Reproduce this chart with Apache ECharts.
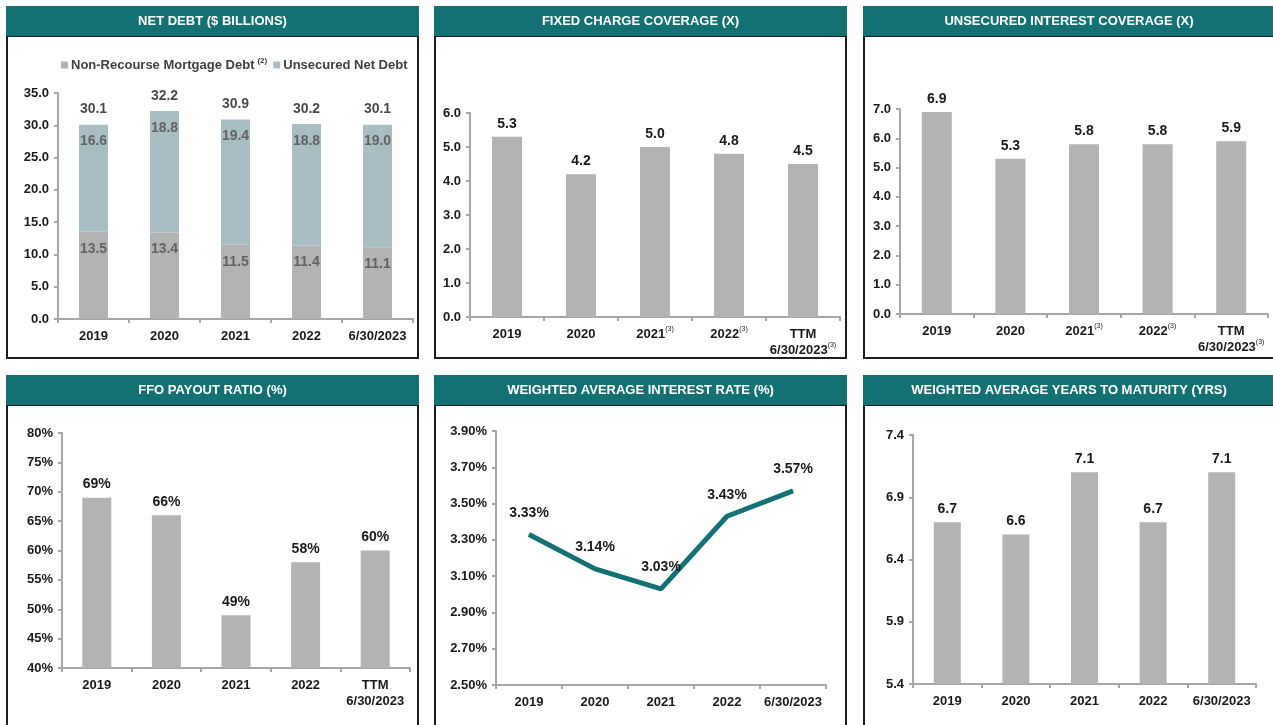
<!DOCTYPE html>
<html>
<head>
<meta charset="utf-8">
<script src="https://cdn.jsdelivr.net/npm/echarts@6/dist/echarts.min.js"></script>
<style>
  html, body { margin: 0; padding: 0; background: #fff; }
  #dash { width: 1273px; height: 725px; }
</style>
</head>
<body>
<div id="dash"></div>
<script>
// categories
const catsPlain = ['2019', '2020', '2021', '2022', '6/30/2023'];
const catsTTM = ['2019', '2020', '2021', '2022', 'TTM\n6/30/2023'];
const catsNote = ['2019', '2020', '2021(3)', '2022(3)', 'TTM\n6/30/2023(3)'];

// net debt ($ billions)
const mortgageDebt = [13.5, 13.4, 11.5, 11.4, 11.1];
const unsecuredDebt = [16.6, 18.8, 19.4, 18.8, 19.0];
// coverage ratios
const fixedCharge = [5.3, 4.2, 5.0, 4.8, 4.5];
const unsecuredCoverage = [6.9, 5.3, 5.8, 5.8, 5.9];
// FFO payout (%)
const ffoPayout = [69, 66, 49, 58, 60];
// weighted average interest rate (%)
const interestRate = [3.33, 3.14, 3.03, 3.43, 3.57];
// weighted average years to maturity
const yearsToMaturity = [6.7, 6.6, 7.1, 6.7, 7.1];

// tick labels
const ticksDebt = [0, 5, 10, 15, 20, 25, 30, 35];
const ticksFixed = [0, 1, 2, 3, 4, 5, 6];
const ticksUnsec = [0, 1, 2, 3, 4, 5, 6, 7];
const ticksFfo = [40, 45, 50, 55, 60, 65, 70, 75, 80];
const ticksRate = [2.5, 2.7, 2.9, 3.1, 3.3, 3.5, 3.7, 3.9];
const ticksYears = [5.4, 5.9, 6.4, 6.9, 7.4];

const totals = mortgageDebt.map((v, i) => +(v + unsecuredDebt[i]).toFixed(1));

const TEAL = '#147173';
const GRAY = '#b2b3b5';
const BLUEGRAY = '#a9bec3';
const AXIS = '#a6a6a6';
const FONT = '"Liberation Sans", Arial, sans-serif';

// panel frames + headers
const panels = [
    {x: 6, y: 6, w: 413, title: 'NET DEBT ($ BILLIONS)'},
    {x: 434, y: 6, w: 413, title: 'FIXED CHARGE COVERAGE (X)'},
    {x: 863, y: 6, w: 412, title: 'UNSECURED INTEREST COVERAGE (X)'},
    {x: 6, y: 375, w: 413, title: 'FFO PAYOUT RATIO (%)'},
    {x: 434, y: 375, w: 413, title: 'WEIGHTED AVERAGE INTEREST RATE (%)'},
    {x: 863, y: 375, w: 412, title: 'WEIGHTED AVERAGE YEARS TO MATURITY (YRS)'}
];
const graphics = [];
panels.forEach(p => {
    graphics.push({
        type: 'rect', shape: {x: p.x + 1, y: p.y + 30, width: p.w - 2, height: p.y < 100 ? 322 : 340},
        style: {fill: 'none', stroke: '#1e1e1e', lineWidth: 2}
    });
    graphics.push({
        type: 'rect', shape: {x: p.x, y: p.y, width: p.w, height: 30},
        style: {fill: TEAL}
    });
    graphics.push({
        type: 'text', x: p.x + p.w / 2, y: p.y + 15,
        style: {text: p.title, fill: '#fff', font: 'bold 13px ' + FONT, textAlign: 'center', textVerticalAlign: 'middle'}
    });
});

const rich = {
    a: {fontFamily: FONT, fontWeight: 'bold', fontSize: 13, color: '#1a1a1a', lineHeight: 16},
    s: {fontFamily: FONT, fontSize: 7, color: '#1a1a1a', verticalAlign: 'top', lineHeight: 16, padding: [0, 0, 6, 0]}
};
function catFormatter(v) {
    return v.split('\n').map(line => line.replace(/^(.*?)(\(\d\))?$/, (m, a, s) => '{a|' + a + '}' + (s ? '{s|' + s + '}' : ''))).join('\n');
}

const grids = [
    {left: 58, top: 93, width: 355, height: 226},
    {left: 470, top: 113, width: 370, height: 204},
    {left: 900, top: 109, width: 368, height: 205},
    {left: 62, top: 433, width: 348, height: 235},
    {left: 496, top: 431, width: 330, height: 254},
    {left: 913, top: 435, width: 343, height: 249}
];
const xCats = [catsPlain, catsNote, catsNote, catsTTM, catsPlain, catsPlain];
const yTicks = [ticksDebt, ticksFixed, ticksUnsec, ticksFfo, ticksRate, ticksYears];
const yFmt = [
    v => v.toFixed(1), v => v.toFixed(1), v => v.toFixed(1),
    v => v + '%', v => v.toFixed(2) + '%', v => v.toFixed(1)
];

const xAxis = xCats.map((c, i) => ({
    type: 'category', gridIndex: i, data: c,
    axisLine: {lineStyle: {color: AXIS, width: 2}},
    axisTick: {show: true, length: 4, interval: 0, lineStyle: {color: AXIS, width: 2}},
    axisLabel: {interval: 0, margin: 9, formatter: catFormatter, rich: rich}
}));
const yAxis = yTicks.map((t, i) => ({
    type: 'value', gridIndex: i, min: t[0], max: t[t.length - 1],
    splitLine: {show: false},
    axisLine: {show: true, lineStyle: {color: AXIS, width: 2}},
    axisTick: {show: true, length: 4, lineStyle: {color: AXIS, width: 2}, customValues: t},
    axisLabel: {
        customValues: t, margin: 9, formatter: yFmt[i],
        fontFamily: FONT, fontWeight: 'bold', fontSize: 13, color: '#1a1a1a'
    }
}));

const topLabel = (fmt, dist) => ({
    show: true, position: 'top', distance: dist, formatter: fmt,
    fontFamily: FONT, fontWeight: 'bold', fontSize: 14, color: '#1a1a1a'
});
const segLabel = {
    show: true, position: 'insideTop', distance: 10,
    formatter: p => p.value.toFixed(1),
    fontFamily: FONT, fontWeight: 'bold', fontSize: 14, color: '#626262'
};

const chart = echarts.init(document.getElementById('dash'));
chart.setOption({
    animation: false,
    textStyle: {fontFamily: FONT},
    graphic: graphics,
    legend: {
        left: 56, top: 52, itemWidth: 7, itemHeight: 7, itemGap: 6, icon: 'rect',
        data: ['Non-Recourse Mortgage Debt', 'Unsecured Net Debt'],
        formatter: n => n === 'Non-Recourse Mortgage Debt' ? '{a|' + n + '}{s|(2)}' : '{a|' + n + '}',
        textStyle: {padding: [0, 0, 0, -2], rich: {
            a: {fontFamily: FONT, fontWeight: 'bold', fontSize: 13, color: '#404040', lineHeight: 16},
            s: {fontFamily: FONT, fontWeight: 'bold', fontSize: 8, color: '#404040', verticalAlign: 'top', lineHeight: 16, padding: [0, 0, 6, 3]}
        }}
    },
    grid: grids,
    xAxis: xAxis,
    yAxis: yAxis,
    series: [
        {name: 'Non-Recourse Mortgage Debt', type: 'bar', stack: 'debt', xAxisIndex: 0, yAxisIndex: 0,
         barWidth: 29, itemStyle: {color: GRAY}, label: segLabel, data: mortgageDebt},
        {name: 'Unsecured Net Debt', type: 'bar', stack: 'debt', xAxisIndex: 0, yAxisIndex: 0,
         barWidth: 29, itemStyle: {color: BLUEGRAY}, label: segLabel, data: unsecuredDebt},
        {name: 'Total', type: 'scatter', xAxisIndex: 0, yAxisIndex: 0, symbolSize: 0,
         label: topLabel(p => p.value.toFixed(1), 8), data: totals},
        {type: 'bar', xAxisIndex: 1, yAxisIndex: 1, barWidth: 30, itemStyle: {color: GRAY},
         label: topLabel(p => p.value.toFixed(1), 6), data: fixedCharge},
        {type: 'bar', xAxisIndex: 2, yAxisIndex: 2, barWidth: 30, itemStyle: {color: GRAY},
         label: topLabel(p => p.value.toFixed(1), 6), data: unsecuredCoverage},
        {type: 'bar', xAxisIndex: 3, yAxisIndex: 3, barWidth: 29, itemStyle: {color: GRAY},
         label: topLabel(p => p.value + '%', 6), data: ffoPayout},
        {type: 'line', xAxisIndex: 4, yAxisIndex: 4, symbol: 'circle', symbolSize: 1, showSymbol: true,
         itemStyle: {color: TEAL},
         lineStyle: {color: TEAL, width: 5}, label: topLabel(p => p.value.toFixed(2) + '%', 14),
         data: interestRate},
        {type: 'bar', xAxisIndex: 5, yAxisIndex: 5, barWidth: 27, itemStyle: {color: GRAY},
         label: topLabel(p => p.value.toFixed(1), 6), data: yearsToMaturity}
    ]
});
</script>
</body>
</html>
